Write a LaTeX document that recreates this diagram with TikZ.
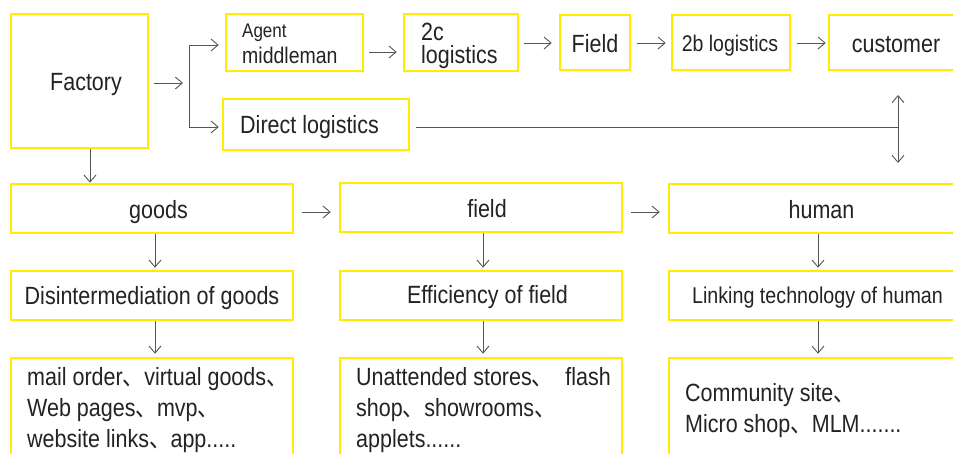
\documentclass[tikz,border=0pt]{standalone}
\usepackage{fontspec}
\setmainfont{Liberation Sans}
\newfontfamily\cjkfont{Noto Sans CJK SC}
\usetikzlibrary{arrows.meta}
\newcommand{\dun}{{\cjkfont 、}}
\newcommand{\tall}[1]{\scalebox{1}[1.16]{#1}}
\definecolor{ybox}{RGB}{255,236,0}
\definecolor{txt}{RGB}{35,35,35}
\definecolor{lne}{RGB}{85,85,85}
\tikzset{
  ybox/.style={draw=ybox, line width=2.6pt, fill=white, inner sep=0pt},
  lbl/.style={inner sep=0pt, text=txt, font=\fontsize{21.5}{31}\selectfont},
  arr/.style={draw=lne, line width=0.9pt, -{Straight Barb[length=7pt,width=12pt]}},
  arrb/.style={draw=lne, line width=0.9pt, {Straight Barb[length=7pt,width=12pt]}-{Straight Barb[length=7pt,width=12pt]}},
  ln/.style={draw=lne, line width=0.9pt}
}
\begin{document}
\begin{tikzpicture}[x=1pt,y=-1pt]
\useasboundingbox (0,0) rectangle (953,453);
\clip (0,0) rectangle (953,453);
\fill[white] (0,0) rectangle (953,453);
% boxes
\node[ybox, minimum width=137pt, minimum height=134pt] (factory) at (79.5,81) {};
\node[ybox, minimum width=137pt, minimum height=57pt] (agent) at (294.5,42.5) {};
\node[ybox, minimum width=114pt, minimum height=57pt] (twoc) at (461,42.5) {};
\node[ybox, minimum width=70pt, minimum height=55pt] (field1) at (595,42.5) {};
\node[ybox, minimum width=118pt, minimum height=55pt] (twob) at (731,42.5) {};
\node[ybox, minimum width=161pt, minimum height=55pt] (customer) at (909.5,42.5) {};
\node[ybox, minimum width=186pt, minimum height=51pt] (direct) at (316,124.5) {};
\node[ybox, minimum width=282pt, minimum height=49pt] (goods) at (152,208.5) {};
\node[ybox, minimum width=282pt, minimum height=49pt] (field2) at (481,207.5) {};
\node[ybox, minimum width=321pt, minimum height=49pt] (human) at (829.5,208.5) {};
\node[ybox, minimum width=282pt, minimum height=49pt] (dis) at (152,295.5) {};
\node[ybox, minimum width=282pt, minimum height=49pt] (eff) at (481,295.5) {};
\node[ybox, minimum width=321pt, minimum height=49pt] (link) at (829.5,295.5) {};
\node[ybox, minimum width=282pt, minimum height=122pt] (mail) at (152,419) {};
\node[ybox, minimum width=282pt, minimum height=122pt] (unatt) at (481,419) {};
\node[ybox, minimum width=321pt, minimum height=122pt] (comm) at (829.5,419) {};
% texts
\node[lbl, anchor=base] (tfactory) at (86,90) {\tall{Factory}};
\node[lbl, anchor=base west, font=\fontsize{17}{20}\selectfont] (tagent) at (242,37) {\tall{Agent}};
\node[lbl, anchor=base west, font=\fontsize{19.5}{22}\selectfont] (tmid) at (242,63) {\tall{middleman}};
\node[lbl, anchor=base west] (t2c) at (421,40) {\tall{2c}};
\node[lbl, anchor=base west] (t2clog) at (421,63) {\tall{logistics}};
\node[lbl, anchor=base] (tfield1) at (595,52) {\tall{Field}};
\node[lbl, anchor=base, font=\fontsize{19.5}{22}\selectfont] (t2b) at (730,51) {\tall{2b logistics}};
\node[lbl, anchor=base] (tcust) at (896,52) {\tall{customer}};
\node[lbl, anchor=base] (tdirect) at (309.5,133) {\tall{Direct logistics}};
\node[lbl, anchor=base] (tgoods) at (158.5,218) {\tall{goods}};
\node[lbl, anchor=base] (tfield2) at (487,217) {\tall{field}};
\node[lbl, anchor=base] (thuman) at (821.5,218) {\tall{human}};
\node[lbl, anchor=base] (tdis) at (152,304) {\tall{Disintermediation of goods}};
\node[lbl, anchor=base] (teff) at (487.5,303) {\tall{Efficiency of field}};
\node[lbl, anchor=base, font=\fontsize{19.7}{22}\selectfont] (tlink) at (817.5,303) {\tall{Linking technology of human}};
\node[lbl, anchor=base west, align=left] (tmail) at (27,447) {\tall{mail order\dun virtual goods\dun}\\\tall{Web pages\dun mvp\dun}\\\tall{website links\dun app.....}};
\node[lbl, anchor=base west, align=left] (tunatt) at (356,447) {\tall{Unattended stores\dun\hspace{6pt} flash}\\\tall{shop\dun showrooms\dun}\\\tall{applets......}};
\node[lbl, anchor=base west, align=left] (tcomm) at (685,432) {\tall{Community site\dun}\\\tall{Micro shop\dun MLM.......}};
% connectors
\coordinate (fin) at (183,83);
\coordinate (bt) at (189,45);
\coordinate (bb) at (189,127);
\coordinate (dj) at (898,127);
\coordinate (dtop) at (898,95);
\coordinate (dbot) at (898,163);
\draw[arr] (factory.east |- fin) ++(5,0) -- (fin);
\draw[arr] (bb) -- (bt) -- ([xshift=-6pt]agent.west |- bt);
\draw[arr] (bt) -- (bb) -- ([xshift=-3pt]direct.west |- bb);
\draw[arr] ([xshift=5pt,yshift=-9.5pt]agent.east) -- ([xshift=-6pt,yshift=-9.5pt]twoc.west);
\draw[arr] ([xshift=5pt,yshift=-0.5pt]twoc.east) -- ([xshift=-7pt,yshift=-0.5pt]field1.west);
\draw[arr] ([xshift=6pt,yshift=-0.5pt]field1.east) -- ([xshift=-5pt,yshift=-0.5pt]twob.west);
\draw[arr] ([xshift=6pt,yshift=-0.5pt]twob.east) -- ([xshift=-2pt,yshift=-0.5pt]customer.west);
\draw[ln] ([xshift=6pt]direct.east |- dj) -- (dj);
\draw[arrb] (dtop) -- (dbot);
\draw[arr] ([xshift=10.5pt]factory.south) -- ([xshift=-62pt]goods.north);
\draw[arr] ([xshift=8pt]goods.east |- 0,212) -- ([xshift=-8pt]field2.west |- 0,212);
\draw[arr] ([xshift=8pt]field2.east |- 0,212) -- ([xshift=-8pt]human.west |- 0,212);
\draw[arr] ([xshift=3pt]goods.south) -- ([xshift=3pt,yshift=2pt]dis.north);
\draw[arr] ([xshift=3pt]dis.south) -- ([xshift=3pt,yshift=3pt]mail.north);
\draw[arr] ([xshift=2pt]field2.south) -- ([xshift=2pt,yshift=2pt]eff.north);
\draw[arr] ([xshift=2pt]eff.south) -- ([xshift=2pt,yshift=3pt]unatt.north);
\draw[arr] ([xshift=-11.5pt]human.south) -- ([xshift=-11.5pt,yshift=2pt]link.north);
\draw[arr] ([xshift=-11.5pt]link.south) -- ([xshift=-11.5pt,yshift=3pt]comm.north);
\end{tikzpicture}
\end{document}
